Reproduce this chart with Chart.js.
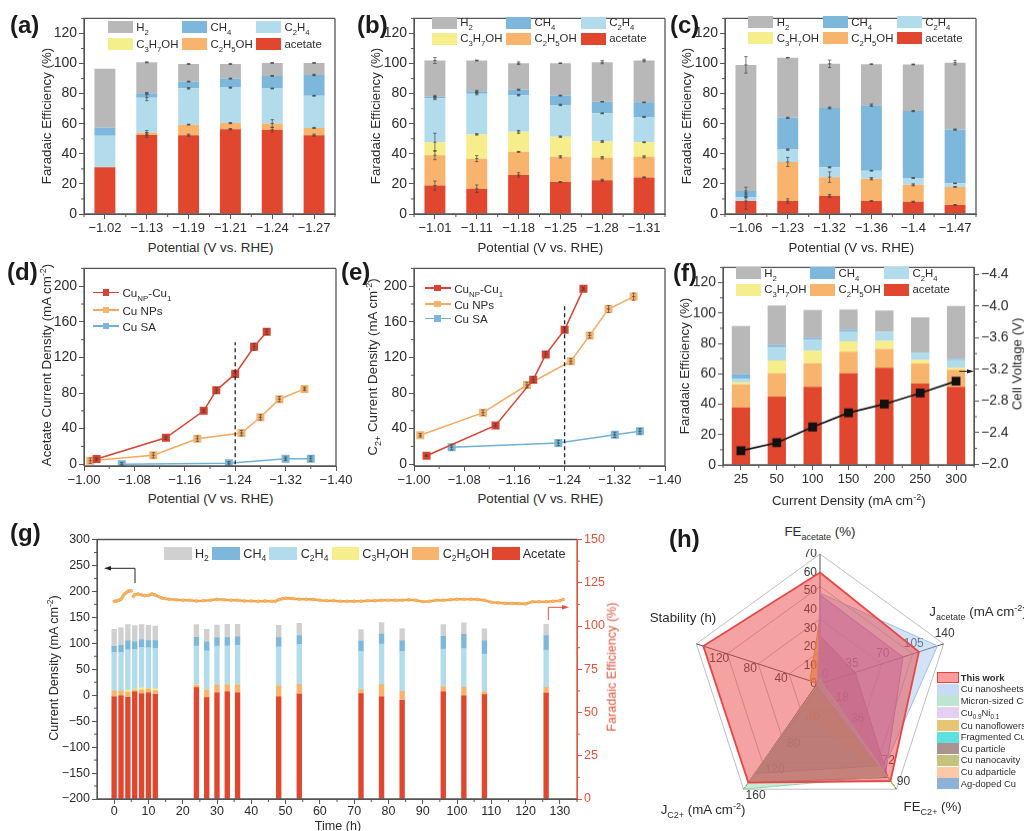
<!DOCTYPE html>
<html><head><meta charset="utf-8">
<script src="https://cdn.jsdelivr.net/npm/chart.js@4"></script>
<style>
html,body{margin:0;padding:0;background:#fff;width:1024px;height:831px;overflow:hidden;font-family:"Liberation Sans",Arial,sans-serif;color:#2b2b2b}
body{filter:blur(.4px)}
canvas{position:absolute;display:block}
.t{position:absolute;white-space:nowrap;line-height:1}
.t sub,.t sup{font-size:.68em;line-height:0}
.s{position:absolute}
svg{position:absolute;left:0;top:0}
</style></head><body>
<script>
// ---------- data ----------
const colors={h2:'#b8b8b8',ch4:'#7db7db',c2h4:'#b2dcec',c3:'#f6ee8c',c2h5:'#f8b46c',ace:'#e0472e'};
const aCats=['−1.02','−1.13','−1.19','−1.21','−1.24','−1.27'];
const aAcetate=[31,52.5,52.4,56.4,56,52.4];
const aEthanol=[0,1.5,7,4,4.2,4.8];
const aPropanol=[0,0,0,0,0,0];
const aEthylene=[21,23.3,24.1,23.6,23.2,21.4];
const aMethane=[5.5,3,4.5,6,8.4,13.8];
const aHydrogen=[39,20.5,11.7,9.7,8.6,8];
const aErr=[[0,1.5,.7,.4,1.5,.7],[0,1.5,.3,.4,2.5,.4],null,[0,2,.5,.4,.3,.3],[0,.5,.3,.3,.3,.5],[0,.3,.2,.2,.2,.2]];
const bCats=['−1.01','−1.11','−1.18','−1.25','−1.28','−1.31'];
const bAcetate=[18.9,16.8,26,21.3,22.4,24.3];
const bEthanol=[20.2,20,15.3,16.7,15,13.7];
const bPropanol=[8.6,16.1,13.3,13.4,10.8,9.7];
const bEthylene=[29.3,27.1,24.4,21.1,18.7,16.8];
const bMethane=[1,1.5,3.6,6.2,7.7,9.7];
const bHydrogen=[24,20.5,17.6,21.5,26.3,27.8];
const bErr=[[3,2.5,1.5,.2,.7,.4],[3,2,.3,.8,.8,.7],[6,.5,1,.5,.7,.3],[1,.8,.5,.5,.3,.4],[.9,.7,.4,.3,.1,.2],[2,.3,.9,.1,1,.9]];
const cCats=['−1.06','−1.23','−1.32','−1.36','−1.4','−1.47'];
const cAcetate=[8.6,8.6,12,8.6,8.2,6];
const cEthanol=[0,26,12.5,14.8,11.2,12];
const cPropanol=[0,0,0,0,0,0];
const cEthylene=[2.6,8.2,6.5,5.4,4.5,2.4];
const cMethane=[4.1,21.1,39.5,43.5,44.5,35.7];
const cHydrogen=[83.8,40,29.3,27.3,31,44.5];
const cErr=[[5.5,1.5,1,.2,.3,.2],[0,3,3.5,.8,.7,.2],null,[.5,.5,.4,.3,.3,.2],[2.5,.4,.6,.8,.4,.4],[5.5,.1,2.5,.1,.3,1.5]];
const dNPx=[-1.02,-1.13,-1.19,-1.21,-1.24,-1.27,-1.29], dNPy=[5.9,29.7,60,83,101.5,132,148.7], dNPe=[1.5,2,2,3,3,4,3];
const dNx=[-1.01,-1.11,-1.18,-1.25,-1.28,-1.31,-1.35], dNy=[4,10,28.6,35,52.7,73,84.6], dNe=[3,3,3,3,3,3,2];
const dSx=[-1.06,-1.23,-1.32,-1.36], dSy=[0,1,6.2,6.2], dSe=[2,2,2,3];
const eNPx=[-1.02,-1.13,-1.19,-1.21,-1.24,-1.27], eNPy=[9.5,43.6,95,123.4,151,197], eNPe=[1,2,3,3,3,2];
const eNx=[-1.01,-1.11,-1.18,-1.25,-1.28,-1.31,-1.35], eNy=[32.6,57.9,89,115.7,144.7,174.4,188.3], eNe=[2,3,3,3,3,4,4];
const eSx=[-1.06,-1.23,-1.32,-1.36], eSy=[19,23.8,33,37], eSe=[3,3,3,3];
const fCats=['25','50','100','150','200','250','300'];
const fAcetate=[37.9,45,51.4,60.4,64,53.5,51.4];
const fEthanol=[15,15.4,15.6,14.1,12.4,13.3,11.3];
const fPropanol=[1.5,8.3,8.2,6.9,5.2,2.4,1.5];
const fEthylene=[2.3,8.8,7.2,6.6,6,4.5,4.8];
const fMethane=[3,1.3,1.1,1,.2,.3,.8];
const fHydrogen=[31.7,26.1,18.5,13.4,13.9,23.2,34.9];
const fVoltage=[-2.17,-2.27,-2.47,-2.65,-2.76,-2.9,-3.05];
const gTimes=[0,2,4,6,8,10,12,24,27,30,33,36,48,54,72,78,84,96,102,108,126];
const gAcetate=[59.1,59.7,58.7,62,60.8,61.4,60.5,64.4,58.6,61.4,62,61.4,59.1,60.6,61,59.1,57,62,59.7,60.3,61.2];
const gEthanol=[3.4,2.7,3.1,1.1,2.3,2.3,2.2,1.4,4.3,4.4,4,4.6,6.3,5.7,2.1,7.2,5.4,2.8,4.9,1.7,3.4];
const gPropanol=[0,0,1.1,.4,1.2,.3,1,.5,.2,0,0,0,0,0,0,0,0,0,0,0,0];
const gEthylene=[22.3,22.4,23.4,23,23.3,23.5,23.4,22.1,22.6,22.6,22.6,22.8,22.6,23.1,22.3,23.2,23,21.9,22.4,21.8,21.5];
const gMethane=[3.4,4,5.1,4.4,4.4,4.1,4.5,5.1,5,4.8,4.7,4.9,5.3,5.1,5.9,5.9,6,7.4,8.2,7.6,8.4];
const gHydrogen=[9.9,10.2,9.4,9.3,8.8,8.8,8.4,7.3,7.4,7.4,7.7,7.3,7.1,7,6.6,6.6,7.1,6.7,6.7,6.9,6.5];
const gLineT=[0,.5,1,1.5,2,2.5,3,3.5,4,4.5,5,5.3,5.6,6,7,8,9,10,11,12,13,14,15,16,18,20,22,24,26,28,30,32,34,36,38,40,42,44,46,47,48,49,50,52,54,56,58,60,62,64,66,68,70,72,74,76,78,80,82,84,86,88,90,92,94,96,98,100,102,104,106,108,110,112,114,116,118,120,122,124,126,128,130,131];
const gLineJ=[181,181,182,183,185,190,195,197,200,201,201,null,190,194,195,193,192,192,195,193,190,187,186,185,184,183,183,181.5,182,183,185,184,183,183,181.5,181.5,181,181.5,181,181,184,186,187,186,185,185,184.6,183,182,182,181,181,181,181,182,182,183,183,183,183,184,183,180,181,183,183,184,185,185,185,184.6,183,179,178,177,177,176.5,176,180,180,180,181,182,184.6];
const radarMax=[70,140,90,160,160];
const radarTicks=[[10,20,30,40,50,60,70],[35,70,105,140],[18,36,72,90],[40,80,120,160],[40,80,120]];
const radarNames=['This work','Cu nanosheets','Micron-sized Cu','Cu0.9Ni0.1','Cu nanoflowers','Fragmented Cu','Cu particle','Cu nanocavity','Cu adparticle','Ag-doped Cu'];
const thisWork=[60,112,83,150,151];
const cuNanosheets=[49,133,74,3,3];
const micronCu=[3,3,79,160,2];
const cuNi=[48,94,77,4,3];
const cuFlowers=[36,2,88,2,13];
const fragmented=[2,3,79,3,2];
const cuParticle=[26,40,80,150,3];
const cuCavity=[4,2,87,2,2];
const cuAdparticle=[3,3,72,43,2];
const agCu=[5,3,70,136,3];
const radarColors=['#ea4545','#9cc0ee','#8fd6ae','#bb55dd','#dcae34','#1fd2d2','#7d6272','#a3a436','#fbb38a','#5f96c8'];
const radarFillAlpha=[.5,.45,.5,.5,.65,.5,.55,.55,.5,.5];

// ---------- helpers ----------
const INK='#2b2b2b',AX='#555';
const FONT='"Liberation Sans",Arial,sans-serif';
function txt(html,x,y,o={}){const d=document.createElement('div');d.className='t';d.innerHTML=html;
 const a=o.a||'c',tx=a==='c'?'-50%':a==='r'?'-100%':'0';
 d.style.cssText=`left:${x}px;top:${y}px;font-size:${o.s||13.3}px;color:${o.c||INK};font-weight:${o.b?'bold':'normal'};transform:translate(${tx},-50%)${o.r?` rotate(${o.r}deg)`:''}`;
 document.body.appendChild(d);}
function box(x,y,w,h,c,bd){const d=document.createElement('div');d.className='s';
 d.style.cssText=`left:${x}px;top:${y}px;width:${w}px;height:${h}px;background:${c};${bd?`border:1px solid ${bd};box-sizing:border-box;`:''}`;document.body.appendChild(d);}
const legItems=[['H<sub>2</sub>','h2'],['CH<sub>4</sub>','ch4'],['C<sub>2</sub>H<sub>4</sub>','c2h4'],['C<sub>3</sub>H<sub>7</sub>OH','c3'],['C<sub>2</sub>H<sub>5</sub>OH','c2h5'],['acetate','ace']];
function legend(xs,ys){legItems.forEach((it,i)=>{const x=xs[i%3],y=ys[Math.floor(i/3)];box(x,y,25,12,colors[it[1]]);txt(it[0],x+28.5,y+6.5,{a:'l',s:11.4});});}
function canvas(l,t,r,b,m){const c=document.createElement('canvas');const W=r-l+m.l+m.r,H=b-t+m.t+m.b;
 c.width=W;c.height=H;c.style.left=(l-m.l)+'px';c.style.top=(t-m.t)+'px';c.style.width=W+'px';c.style.height=H+'px';document.body.appendChild(c);return c;}
const fitW=w=>s=>{s.width=w;}, fitH=h=>s=>{s.height=h;};
const setTicks=list=>s=>{s.ticks=list.map(v=>({value:v}));};
const frame=(rightColor)=>({id:'frame',afterDraw(ch){const a=ch.chartArea,c=ch.ctx;c.save();c.strokeStyle=AX;c.lineWidth=1.3;
 c.beginPath();c.moveTo(a.left,a.bottom);c.lineTo(a.left,a.top);c.lineTo(a.right,a.top);c.stroke();
 c.beginPath();c.moveTo(a.left,a.bottom);c.lineTo(a.right,a.bottom);c.stroke();
 c.strokeStyle=rightColor||AX;c.beginPath();c.moveTo(a.right,a.top);c.lineTo(a.right,a.bottom);c.stroke();c.restore();}});
const minor=(spec)=>({id:'minor',afterDraw(ch){const c=ch.ctx;c.save();c.lineWidth=1;
 for(const k in spec){const s=ch.scales[k];c.strokeStyle=spec[k].c||AX;c.beginPath();
  spec[k].v.forEach(v=>{const p=s.getPixelForValue(v);
   if(k==='x'){c.moveTo(p,s.top);c.lineTo(p,s.top+3);}
   else if(s.position==='right'){c.moveTo(s.left,p);c.lineTo(s.left+3,p);}
   else{c.moveTo(s.right,p);c.lineTo(s.right-3,p);}});c.stroke();}c.restore();}});
const errs={id:'errs',afterDatasetsDraw(ch){const c=ch.ctx;c.save();c.strokeStyle='#444';c.lineWidth=.7;
 ch.data.datasets.forEach((d,i)=>{if(!d.errs)return;const m=ch.getDatasetMeta(i),ys=ch.scales[m.yAxisID];
  const u=Math.abs(ys.getPixelForValue(50)-ys.getPixelForValue(0))/50;
  d.errs.forEach((e,j)=>{if(!e)return;const el=m.data[j],h=e*u;c.beginPath();
   c.moveTo(el.x,el.y-h);c.lineTo(el.x,el.y+h);c.moveTo(el.x-1.7,el.y-h);c.lineTo(el.x+1.7,el.y-h);c.moveTo(el.x-1.7,el.y+h);c.lineTo(el.x+1.7,el.y+h);c.moveTo(el.x-1.7,el.y);c.lineTo(el.x+1.7,el.y);c.stroke();});});c.restore();}};
const tk=(size,extra={})=>Object.assign({color:INK,font:{family:FONT,size},padding:2,maxRotation:0,minRotation:0,autoSkip:false},extra);
const gridTicks=(c)=>({display:true,drawOnChartArea:false,drawTicks:true,tickLength:5,color:c||AX,lineWidth:1,offset:false});
const evens=(a,b,s)=>{const r=[];for(let v=a;v<=b;v+=s)r.push(v);return r;};
const base=()=>({responsive:false,animation:false,devicePixelRatio:1,events:[],plugins:{legend:{display:false},tooltip:{enabled:false}}});
function barDs(label,data,col,extra={}){return Object.assign({type:'bar',label,data,backgroundColor:col,borderWidth:0,stack:'s',barPercentage:.5,categoryPercentage:1,order:1},extra);}

// stacked panels a, b, c
function stackedPanel(l,t,r,b,cats,ser,er){
 const M={l:50,r:10,t:6,b:24};
 const names=['ace','c2h5','c3','c2h4','ch4','h2'];
 new Chart(canvas(l,t,r,b,M),{type:'bar',data:{labels:cats,datasets:ser.map((s,i)=>barDs(names[i],s,colors[names[i]],{errs:er[i]}))},
 options:Object.assign(base(),{layout:{autoPadding:false,padding:{left:0,right:M.r,top:M.t,bottom:0}},
  scales:{x:{stacked:true,grid:gridTicks(),border:{color:AX},ticks:tk(13),afterFit:fitH(M.b)},
   y:{stacked:true,min:0,max:130,grid:gridTicks(),border:{color:AX},ticks:tk(14),afterBuildTicks:setTicks([0,20,40,60,80,100,120]),afterFit:fitW(M.l)}}}),
 plugins:[frame(),errs,minor({x:{v:evens(-.5,5.5,1)},y:{v:[10,30,50,70,90,110,130]}})]});
}
stackedPanel(84,14,335,214,aCats,[aAcetate,aEthanol,aPropanol,aEthylene,aMethane,aHydrogen],aErr);
stackedPanel(414,14,665,214,bCats,[bAcetate,bEthanol,bPropanol,bEthylene,bMethane,bHydrogen],bErr);
stackedPanel(725,14,976,214,cCats,[cAcetate,cEthanol,cPropanol,cEthylene,cMethane,cHydrogen],cErr);
legend([107.7,182,256],[21.3,38]);
legend([431.7,506,580.7],[16.7,32.7]);
legend([748.3,822.7,896.7],[16,32]);

// line panels d, e
const lineCols=['#d9432f','#f6b46e','#7ab7da'],lineBorders=['#d9432f','#f4a95c','#6fb0d6'];
function xy(xs,ys){return xs.map((x,i)=>({x,y:ys[i]}));}
function linePanel(l,t,r,b,sets,dash){
 const M={l:50,r:26,t:6,b:24};
 const ds=sets.map((s,i)=>({type:'line',data:xy(s[0],s[1]),errs:s[2],borderColor:lineBorders[i],backgroundColor:lineCols[i],borderWidth:1.5,pointStyle:'rect',pointRadius:4.6,pointBorderColor:lineCols[i],tension:0,order:1}));
 ds.push({type:'line',data:dash,borderColor:'#222',borderWidth:1.3,borderDash:[4,3],pointRadius:0,order:0});
 new Chart(canvas(l,t,r,b,M),{type:'line',data:{datasets:ds},options:Object.assign(base(),{layout:{autoPadding:false,padding:{left:0,right:M.r,top:M.t,bottom:0}},
  scales:{x:{type:'linear',reverse:true,min:-1.4,max:-1,grid:gridTicks(),border:{color:AX},ticks:tk(13,{callback:v=>v.toFixed(2).replace('-','−')}),afterBuildTicks:setTicks([-1,-1.08,-1.16,-1.24,-1.32,-1.4]),afterFit:fitH(M.b)},
   y:{min:-2,max:220,grid:gridTicks(),border:{color:AX},ticks:tk(14),afterBuildTicks:setTicks([0,40,80,120,160,200]),afterFit:fitW(M.l)}}}),
 plugins:[frame(),errs,minor({x:{v:[-1.04,-1.12,-1.2,-1.28,-1.36]},y:{v:[20,60,100,140,180,220]}})]});
}
const dDash=[{x:-1.24,y:0},{x:-1.24,y:137}],eDash=[{x:-1.24,y:0},{x:-1.24,y:178}];
linePanel(84,264,336,466,[[dNPx,dNPy,dNPe],[dNx,dNy,dNe],[dSx,dSy,dSe]],dDash);
linePanel(414,264,665,466,[[eNPx,eNPy,eNPe],[eNx,eNy,eNe],[eSx,eSy,eSe]],eDash);
function lineLegend(x1,ys,sz){['Cu<sub>NP</sub>-Cu<sub>1</sub>','Cu NPs','Cu SA'].forEach((n,i)=>{
 box(x1,ys[i]-.75,26,1.5,lineBorders[i]);box(x1+9.7,ys[i]-3.3,6.6,6.6,lineCols[i]);txt(n,x1+29.5,ys[i]+.5,{a:'l',s:sz});});}
lineLegend(93,[292.7,310,326],11.6);
lineLegend(424.7,[288,304,318.5],11.6);

// panel f
(function(){const M={l:50,r:46,t:6,b:26},l=723,t=263.3,r=974,b=465;
 const names=['ace','c2h5','c3','c2h4','ch4','h2'],ser=[fAcetate,fEthanol,fPropanol,fEthylene,fMethane,fHydrogen];
 const ds=ser.map((s,i)=>barDs(names[i],s,colors[names[i]],{barPercentage:.51}));
 ds.push({type:'line',data:fVoltage,yAxisID:'y2',borderColor:'#111',backgroundColor:'#111',borderWidth:1.7,pointStyle:'rect',pointRadius:5,pointBorderColor:'#111',tension:0,order:0});
 new Chart(canvas(l,t,r,b,M),{type:'bar',data:{labels:fCats,datasets:ds},options:Object.assign(base(),{layout:{autoPadding:false,padding:{left:0,right:0,top:M.t,bottom:0}},
  scales:{x:{stacked:true,grid:gridTicks(),border:{color:AX},ticks:tk(13),afterFit:fitH(M.b)},
   y:{stacked:true,min:0,max:130,grid:gridTicks(),border:{color:AX},ticks:tk(14),afterBuildTicks:setTicks([0,20,40,60,80,100,120]),afterFit:fitW(M.l)},
   y2:{position:'right',reverse:true,min:-4.49,max:-1.99,grid:gridTicks(),border:{color:AX},ticks:tk(14,{callback:v=>v.toFixed(1).replace('-','−')}),afterBuildTicks:setTicks([-2,-2.4,-2.8,-3.2,-3.6,-4,-4.4]),afterFit:fitW(M.r)}}}),
  plugins:[frame(),minor({x:{v:evens(-.5,6.5,1)},y:{v:[10,30,50,70,90,110,130]},y2:{v:[-2.2,-2.6,-3,-3.4,-3.8,-4.2]}})]});
})();
legend([735.7,810,884],[267,283.7]);

// panel g
(function(){const M={l:45,r:46,t:6,b:26},l=96.7,t=535.7,r=576.7,b=798.7;
 const red='#e0533a';
 const names=[['ace',gAcetate],['c2h5',gEthanol],['c3',gPropanol],['c2h4',gEthylene],['ch4',gMethane],['h2',gHydrogen]];
 const ds=names.map(n=>barDs(n[0],xy(gTimes,n[1]),n[0]==='h2'?'#d0d0d0':colors[n[0]],{yAxisID:'y2',barThickness:4.7}));
 ds.push({type:'line',data:xy(gLineT,gLineJ),yAxisID:'y',borderColor:'#f5a64e',borderWidth:2.6,pointRadius:1.4,pointBackgroundColor:'#f8bd7c',pointBorderColor:'#f29a3c',pointBorderWidth:.6,tension:0,spanGaps:false,order:0});
 new Chart(canvas(l,t,r,b,M),{type:'bar',data:{datasets:ds},options:Object.assign(base(),{layout:{autoPadding:false,padding:{left:0,right:0,top:M.t,bottom:0}},
  scales:{x:{type:'linear',stacked:true,offset:false,min:-5,max:135,grid:gridTicks(),border:{color:AX},ticks:tk(12.5,{padding:0}),afterBuildTicks:setTicks(evens(0,130,10)),afterFit:fitH(M.b)},
   y:{min:-200,max:300,grid:gridTicks(),border:{color:AX},ticks:tk(12.5,{callback:v=>String(v).replace('-','−')}),afterBuildTicks:setTicks(evens(-200,300,50)),afterFit:fitW(M.l)},
   y2:{position:'right',stacked:true,min:0,max:150,grid:gridTicks(red),border:{color:red},ticks:tk(12.5,{color:red}),afterBuildTicks:setTicks(evens(0,150,25)),afterFit:fitW(M.r)}}}),
  plugins:[frame(red),minor({x:{v:evens(5,135,10)},y:{v:evens(-175,275,50)},y2:{v:evens(12.5,137.5,25),c:red}})]});
})();
[[164,'h2','H<sub>2</sub>',195],[212,'ch4','CH<sub>4</sub>',243.3],[269,'c2h4','C<sub>2</sub>H<sub>4</sub>',300.7],[331.7,'c3','C<sub>3</sub>H<sub>7</sub>OH',362.3],[411.7,'c2h5','C<sub>2</sub>H<sub>5</sub>OH',442.7],[492.3,'ace','Acetate',522.7]].forEach(a=>{
 box(a[0],546.7,27.5,13.3,a[1]==='h2'?'#d0d0d0':colors[a[1]]);txt(a[2],a[3],553.5,{a:'l',s:12.6});});

// panel h radar
(function(){const R=130,P=5,cx=819.5,cy=683.5;
 const c=document.createElement('canvas');c.width=c.height=2*(R+P);c.style.cssText=`left:${cx-R-P}px;top:${cy-R-P}px;width:${2*(R+P)}px;height:${2*(R+P)}px`;document.body.appendChild(c);
 const sets=[thisWork,cuNanosheets,micronCu,cuNi,cuFlowers,fragmented,cuParticle,cuCavity,cuAdparticle,agCu];
 const hex=(h,a)=>h+Math.round(a*255).toString(16).padStart(2,'0');
 const ds=sets.map((s,i)=>({label:radarNames[i],data:s.map((v,k)=>v/radarMax[k]),borderColor:radarColors[i],backgroundColor:hex(radarColors[i],radarFillAlpha[i]),borderWidth:i?1:1.8,pointRadius:0,fill:true,tension:0}));
 const axisLabels={id:'axisLabels',beforeDatasetsDraw(ch){const x=ch.ctx,s=ch.scales.r;x.save();x.fillStyle='#3a3a3a';x.font='12px '+FONT;x.textBaseline='middle';
  const off=[[-3,0,'right'],[1,-10,'center'],[7,-7,'center'],[12,7,'center'],[-8,5,'center']];
  radarTicks.forEach((tl,k)=>{tl.forEach(v=>{const p=s.getPointPositionForValue(k,v/radarMax[k]);x.textAlign=off[k][2];x.fillText(v,p.x+off[k][0],p.y+off[k][1]);});});
  x.textAlign='right';x.fillText('0',s.xCenter-3,s.yCenter);x.textAlign='center';x.fillText('0',s.xCenter+5,s.yCenter+7);x.fillText('0',s.xCenter+5,s.yCenter-9);x.restore();}};
 new Chart(c,{type:'radar',data:{labels:['FE acetate','J acetate','FE C2+','J C2+','Stability'],datasets:ds},options:Object.assign(base(),{layout:{autoPadding:false,padding:P},
  scales:{r:{min:0,max:1,ticks:{display:false,stepSize:.25},pointLabels:{display:false},grid:{color:'#bdbdbd',lineWidth:1},angleLines:{color:'#555',lineWidth:1}}}}),plugins:[axisLabels]});
 const sw=['#f79b9b','#c8daf5','#bde5cf','#e5d0f3','#e6c574','#5fe0e0','#ad9292','#c4c37d','#fcc8a8','#8fb3d8'];
 const ry=[677.7,689,700.7,712.5,725.5,737,748.7,760.3,772,783.7];
 const nm=radarNames.map(n=>n==='Cu0.9Ni0.1'?'Cu<sub>0.9</sub>Ni<sub>0.1</sub>':n);
 nm.forEach((n,i)=>{box(937,ry[i]-5.3,21.5,11,sw[i],i?null:'#e84040');txt(n,960.7,ry[i],{a:'l',s:9.4,b:i===0});});
})();

// titles
const FE='Faradaic Efficiency (%)',PT='Potential (V vs. RHE)';
[[47,116],[376,116],[687,116]].forEach(p=>txt(FE,p[0],p[1],{r:-90}));
[[210.5,248],[540.3,248],[851.3,248],[210.5,499.3],[540.3,499.3]].forEach(p=>txt(PT,p[0],p[1]));
txt('Acetate Current Density (mA cm<sup>-2</sup>)',46.7,365,{r:-90});
txt('C<sub>2+</sub> Current Density (mA cm<sup>-2</sup>)',373,367,{r:-90});
txt(FE,685,366,{r:-90});
txt('Cell Voltage (V)',1017,364,{r:-90});
txt('Current Density (mA cm<sup>-2</sup>)',848.8,500.7);
txt('Current Density (mA cm<sup>-2</sup>)',54,668,{r:-90,s:12.6});
txt('Time (h)',338,826,{s:12.6});
txt(FE,611.7,667,{r:-90,c:'#e0533a',s:12.6});
[['(a)',10,25],['(b)',357,25],['(c)',670,25],['(d)',7,272],['(e)',341,272],['(f)',673,273],['(g)',10,533],['(h)',669,539]].forEach(a=>txt(a[0],a[1],a[2],{a:'l',s:24,b:true,c:'#1a1a1a'}));
txt('FE<sub>acetate</sub> (%)',820,532);
txt('J<sub>acetate</sub> (mA cm<sup>-2</sup>)',929.3,611.7,{a:'l'});
txt('Stability (h)',683,618);
txt('J<sub>C2+</sub> (mA cm<sup>-2</sup>)',703,810);
txt('FE<sub>C2+</sub> (%)',932.7,807);

// annotation arrows
const ns='http://www.w3.org/2000/svg',sv=document.createElementNS(ns,'svg');sv.setAttribute('width',1024);sv.setAttribute('height',831);
sv.innerHTML=`<polyline points="135,583 135,568.3 109,568.3" fill="none" stroke="#222" stroke-width="1"/><polygon points="104,568.3 111,566 111,570.6" fill="#222"/>
<polyline points="548.3,620 548.3,607.3 564,607.3" fill="none" stroke="#e0533a" stroke-width="1"/><polygon points="569,607.3 562,605 562,609.6" fill="#e0533a"/>
<line x1="959.3" y1="371.3" x2="969" y2="371.3" stroke="#222" stroke-width="1"/><polygon points="974,371.3 967,369.2 967,373.4" fill="#222"/>`;
document.body.appendChild(sv);
</script>
</body></html>
